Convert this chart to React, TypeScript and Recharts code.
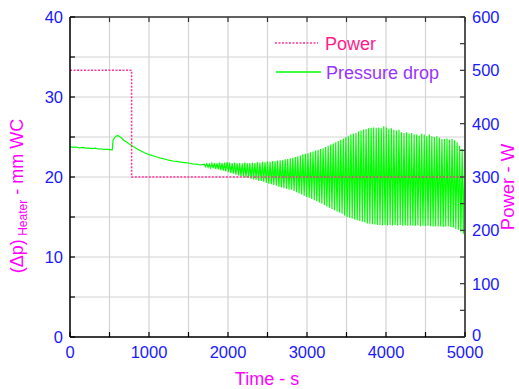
import React from 'react';
import { LineChart, Line, XAxis, YAxis, CartesianGrid } from 'recharts';

// ---------- data ----------
const xTicks = [0, 500, 1000, 1500, 2000, 2500, 3000, 3500, 4000, 4500, 5000];
const leftTicks = [0, 5, 10, 15, 20, 25, 30, 35, 40];
const rightTicks = [0, 50, 100, 150, 200, 250, 300, 350, 400, 450, 500, 550, 600];

const powerTime = [0, 780, 780, 5000];
const powerValue = [500, 500, 300, 300];

// smooth part of the pressure-drop record (s, mm WC)
const dpTime = [0, 40, 80, 120, 160, 200, 240, 280, 320, 360, 400, 440, 480, 520, 535, 545, 565, 585, 605, 625, 650, 680, 710, 740, 770, 800, 850, 900, 950, 1000, 1050, 1100, 1150, 1200, 1250, 1300, 1350, 1400, 1450, 1500, 1550, 1600, 1650];
const dpValue = [23.8, 23.7, 23.75, 23.65, 23.7, 23.6, 23.6, 23.55, 23.6, 23.5, 23.5, 23.45, 23.45, 23.4, 23.4, 24.6, 24.9, 25.1, 25.2, 25.05, 24.9, 24.6, 24.4, 24.2, 24.0, 23.8, 23.5, 23.25, 23.0, 22.8, 22.65, 22.5, 22.35, 22.25, 22.1, 22.0, 21.95, 21.85, 21.8, 21.75, 21.65, 21.6, 21.5];

// oscillating part: one peak and one trough per cycle
const oscStart = 1700; // s
const oscPeriod = 32; // s
const oscHigh = [
  21.6, 21.65, 21.6, 21.7, 21.75, 21.7, 21.8, 21.75, 21.8, 21.85,
  21.8, 21.75, 21.8, 21.7, 21.75, 21.7, 21.8, 21.7, 21.75, 21.8,
  21.75, 21.85, 21.8, 21.9, 21.85, 21.95, 21.9, 22.0, 21.95, 22.05,
  22.1, 22.1, 22.2, 22.25, 22.35, 22.4, 22.5, 22.6, 22.7, 22.85,
  22.9, 23.0, 23.1, 23.2, 23.3, 23.4, 23.5, 23.6, 23.75, 23.9,
  24.05, 24.2, 24.35, 24.5, 24.65, 24.8, 25.0, 25.1, 25.3, 25.45,
  25.5, 25.7, 25.8, 25.95, 26.0, 26.1, 26.15, 26.2, 26.15, 26.2,
  26.1, 26.35, 26.2, 26.0, 26.1, 25.9, 25.8, 25.9, 25.6, 25.5,
  25.6, 25.4, 25.5, 25.35, 25.3, 25.2, 25.4, 25.3, 25.1, 25.3,
  25.1, 25.0, 25.1, 24.9, 24.75, 24.75, 24.8, 24.7, 24.75, 24.6,
  24.3, 23.9, 23.5, 23.3,
];
const oscLow = [
  21.3, 21.2, 21.15, 21.1, 21.0, 20.95, 20.85, 20.8, 20.7, 20.6,
  20.5, 20.4, 20.3, 20.2, 20.1, 20.05, 19.95, 19.9, 19.8, 19.7,
  19.65, 19.55, 19.5, 19.4, 19.25, 19.15, 19.1, 19.0, 18.9, 18.8,
  18.7, 18.6, 18.55, 18.45, 18.4, 18.25, 18.1, 17.95, 17.8, 17.65,
  17.5, 17.4, 17.25, 17.1, 17.0, 16.8, 16.65, 16.5, 16.3, 16.15,
  16.0, 15.85, 15.7, 15.55, 15.4, 15.2, 15.0, 14.9, 14.8, 14.7,
  14.6, 14.5, 14.4, 14.35, 14.2, 14.15, 14.1, 14.05, 14.0, 14.0,
  13.95, 14.0, 13.95, 14.0, 13.95, 14.0, 13.95, 14.0, 13.9, 13.95,
  13.9, 13.95, 13.9, 13.9, 13.95, 13.85, 13.9, 13.85, 13.9, 13.85,
  13.8, 13.85, 13.8, 13.8, 13.75, 13.8, 13.8, 13.75, 13.7, 13.5,
  13.4, 13.2, 12.9, 12.7,
];

// ---------- build series ----------
const powerData = powerTime.map((t, i) => ({ t, p: powerValue[i] }));
const pressureData: { t: number; dp: number }[] = dpTime.map((t, i) => ({ t, dp: dpValue[i] }));
oscHigh.forEach((h, i) => {
  pressureData.push({ t: oscStart + i * oscPeriod, dp: h });
  pressureData.push({ t: oscStart + i * oscPeriod + oscPeriod / 2, dp: oscLow[i] });
});

// ---------- layout ----------
const W = 519;
const H = 389;
const PL = 70;
const PR = 465;
const PT = 17;
const PB = 337;
const FONT = '"Liberation Sans", Arial, sans-serif';
const TICK_BLUE = '#1a1aff';
const TITLE_MAGENTA = '#ff00ff';

const XTick = (props: any) => {
  const { x, payload } = props;
  const v = payload.value;
  return (
    <g>
      <line x1={x} x2={x} y1={PB} y2={PB - 5} stroke="#000" strokeWidth={1.2} />
      <line x1={x} x2={x} y1={PT} y2={PT + 5} stroke="#333" strokeWidth={1.2} />
      {v % 1000 === 0 && (
        <text x={x} y={358} textAnchor="middle" fill={TICK_BLUE} fontSize={16.5} fontFamily={FONT}>
          {v}
        </text>
      )}
    </g>
  );
};

const LeftTick = (props: any) => {
  const { y, payload } = props;
  const v = payload.value;
  return (
    <g>
      <line x1={PL} x2={PL + 5} y1={y} y2={y} stroke="#000" strokeWidth={1.2} />
      {v % 10 === 0 && (
        <text x={PL - 7} y={y} dy="0.36em" textAnchor="end" fill={TICK_BLUE} fontSize={16.5} fontFamily={FONT}>
          {v}
        </text>
      )}
    </g>
  );
};

const RightTick = (props: any) => {
  const { y, payload } = props;
  const v = payload.value;
  return (
    <g>
      <line x1={PR - 5} x2={PR} y1={y} y2={y} stroke="#333" strokeWidth={1.2} />
      {v % 100 === 0 && (
        <text x={PR + 7} y={v === 0 ? y - 1.5 : y} dy="0.36em" textAnchor="start" fill={TICK_BLUE} fontSize={16.5} fontFamily={FONT}>
          {v}
        </text>
      )}
    </g>
  );
};

export default function App() {
  return (
    <div style={{ position: 'absolute', left: 0, top: 0, width: W, height: H, background: '#fff' }}>
      <LineChart width={W} height={H} margin={{ top: PT, right: 14, bottom: 22, left: 30 }}>
        <CartesianGrid xAxisId="x" yAxisId="left" stroke="#d4d4d4" strokeWidth={1.2} />
        <XAxis
          xAxisId="x"
          dataKey="t"
          type="number"
          domain={[0, 5000]}
          ticks={xTicks}
          allowDataOverflow
          height={30}
          axisLine={{ stroke: '#000', strokeWidth: 1.5 }}
          tickLine={false}
          tick={<XTick />}
          interval={0}
        />
        <YAxis
          yAxisId="left"
          type="number"
          domain={[0, 40]}
          ticks={leftTicks}
          width={40}
          axisLine={{ stroke: '#000', strokeWidth: 1.5 }}
          tickLine={false}
          tick={<LeftTick />}
          interval={0}
        />
        <YAxis
          yAxisId="right"
          orientation="right"
          type="number"
          domain={[0, 600]}
          ticks={rightTicks}
          width={40}
          axisLine={{ stroke: '#555', strokeWidth: 2 }}
          tickLine={false}
          tick={<RightTick />}
          interval={0}
        />
        <Line
          xAxisId="x"
          yAxisId="left"
          data={pressureData}
          dataKey="dp"
          name="Pressure drop"
          type="linear"
          stroke="#00ff00"
          strokeWidth={1.2}
          dot={false}
          isAnimationActive={false}
        />
        <Line
          xAxisId="x"
          yAxisId="right"
          data={powerData}
          dataKey="p"
          name="Power"
          type="linear"
          stroke="#ff3399"
          strokeWidth={1.5}
          strokeDasharray="2 1.5"
          dot={false}
          isAnimationActive={false}
        />
        {/* top frame line */}
        <line x1={PL} x2={PR} y1={PT} y2={PT} stroke="#333" strokeWidth={1.5} />
        {/* legend */}
        <line x1={275} x2={318} y1={43} y2={43} stroke="#ff3399" strokeWidth={1.5} strokeDasharray="2 1.5" />
        <text x={325} y={49.5} fill="#ff1a8c" fontSize={18} fontFamily={FONT}>Power</text>
        <line x1={276} x2={321} y1={72} y2={72} stroke="#00ff00" strokeWidth={1.5} />
        <text x={326} y={78.5} fill="#9933ff" fontSize={18} fontFamily={FONT}>Pressure drop</text>
        {/* axis titles */}
        <text x={267} y={385} textAnchor="middle" fill={TITLE_MAGENTA} fontSize={18} fontFamily={FONT}>Time - s</text>
        <text x={514} y={187} textAnchor="middle" fill={TITLE_MAGENTA} fontSize={18.5} fontFamily={FONT} transform="rotate(-90 514 187)">Power - W</text>
        <text x={23} y={196} textAnchor="middle" fill={TITLE_MAGENTA} fontSize={18} fontFamily={FONT} transform="rotate(-90 23 196)">
          (Δp)
          <tspan fontSize={12} dy={4}> Heater</tspan>
          <tspan dy={-4}> - mm WC</tspan>
        </text>
      </LineChart>
    </div>
  );
}
